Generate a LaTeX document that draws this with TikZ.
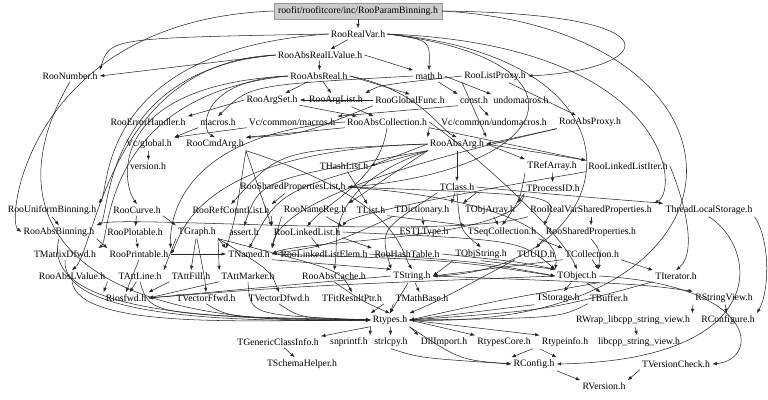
\documentclass[tikz,border=0pt]{standalone}
\usepackage{fontspec}
\setmainfont{Liberation Serif}
\usepackage{tikz}
\usetikzlibrary{arrows.meta}

\begin{document}
\begin{tikzpicture}[
  x=0.75pt, y=-0.75pt,
  hdr/.style={inner sep=1.5pt, font=\fontsize{7.3}{8}\selectfont},
  rootf/.style={hdr, fill=black!20, draw=black!40, inner xsep=3pt, minimum height=12pt},
  dep/.style={-{Latex[length=3.4pt,width=2.6pt]}, line width=0.4pt, black!85}
]
\useasboundingbox (0,0) rectangle (768,400);

% header nodes, row by row
\node[rootf] (rootfile) at (358,11) {roofit/roofitcore/inc/RooParamBinning.h};
\node[hdr] (realvar) at (358,34) {RooRealVar.h};
\node[hdr] (absreallv) at (320,55) {RooAbsRealLValue.h};
\node[hdr] (number) at (70,76) {RooNumber.h};
\node[hdr] (absreal) at (319,76) {RooAbsReal.h};
\node[hdr] (mathh) at (429,76) {math.h};
\node[hdr] (listproxy) at (495,76) {RooListProxy.h};
\node[hdr] (argset) at (272,100) {RooArgSet.h};
\node[hdr] (arglist) at (336,100) {RooArgList.h};
\node[hdr] (globalfunc) at (410,100) {RooGlobalFunc.h};
\node[hdr] (consth) at (474,100) {const.h};
\node[hdr] (undomac) at (521,100) {undomacros.h};
\node[hdr] (errhandler) at (148,122) {RooErrorHandler.h};
\node[hdr] (macros) at (218,122) {macros.h};
\node[hdr] (vcmacros) at (292,122) {Vc/common/macros.h};
\node[hdr] (abscoll) at (387,122) {RooAbsCollection.h};
\node[hdr] (vcundomac) at (494,122) {Vc/common/undomacros.h};
\node[hdr] (absproxy) at (590,122) {RooAbsProxy.h};
\node[hdr] (vcglobal) at (149,144) {Vc/global.h};
\node[hdr] (cmdarg) at (215,144) {RooCmdArg.h};
\node[hdr] (absarg) at (457,144) {RooAbsArg.h};
\node[hdr] (version) at (148,166) {version.h};
\node[hdr] (hashlist) at (344,166) {THashList.h};
\node[hdr] (refarray) at (552,166) {TRefArray.h};
\node[hdr] (llistiter) at (628,166) {RooLinkedListIter.h};
\node[hdr] (sharedpl) at (293,187) {RooSharedPropertiesList.h};
\node[hdr] (tclass) at (457,187) {TClass.h};
\node[hdr] (processid) at (553,188) {TProcessID.h};
\node[hdr] (unifbin) at (52,210) {RooUniformBinning.h};
\node[hdr] (curve) at (137,210) {RooCurve.h};
\node[hdr] (refcount) at (231,210) {RooRefCountList.h};
\node[hdr] (namereg) at (315,210) {RooNameReg.h};
\node[hdr] (tlist) at (371,210) {TList.h};
\node[hdr] (tdict) at (422,210) {TDictionary.h};
\node[hdr] (objarray) at (490,210) {TObjArray.h};
\node[hdr] (rvsp) at (591,210) {RooRealVarSharedProperties.h};
\node[hdr] (tls) at (709,210) {ThreadLocalStorage.h};
\node[hdr] (absbin) at (59,232) {RooAbsBinning.h};
\node[hdr] (plotable) at (135,232) {RooPlotable.h};
\node[hdr] (tgraph) at (197,232) {TGraph.h};
\node[hdr] (asserth) at (244,232) {assert.h};
\node[hdr] (llist) at (307,232) {RooLinkedList.h};
\node[hdr] (estl) at (424,232) {ESTLType.h};
\node[hdr] (seqcoll) at (502,232) {TSeqCollection.h};
\node[hdr] (sharedprop) at (591,232) {RooSharedProperties.h};
\node[hdr] (matdfwd) at (65,254) {TMatrixDfwd.h};
\node[hdr] (printable) at (139,254) {RooPrintable.h};
\node[hdr] (tnamed) at (249,254) {TNamed.h};
\node[hdr] (llelem) at (324,254) {RooLinkedListElem.h};
\node[hdr] (hashtable) at (407,254) {RooHashTable.h};
\node[hdr] (objstring) at (481,254) {TObjString.h};
\node[hdr] (tuuid) at (536,254) {TUUID.h};
\node[hdr] (tcoll) at (592,254) {TCollection.h};
\node[hdr] (abslv) at (72,276) {RooAbsLValue.h};
\node[hdr] (attline) at (140,276) {TAttLine.h};
\node[hdr] (attfill) at (191,276) {TAttFill.h};
\node[hdr] (attmarker) at (248,276) {TAttMarker.h};
\node[hdr] (abscache) at (334,276) {RooAbsCache.h};
\node[hdr] (tstring) at (412,276) {TString.h};
\node[hdr] (tobject) at (577,276) {TObject.h};
\node[hdr] (titer) at (676,276) {TIterator.h};
\node[hdr] (riosfwd) at (126,298) {Riosfwd.h};
\node[hdr] (vecffwd) at (206,298) {TVectorFfwd.h};
\node[hdr] (vecdfwd) at (279,298) {TVectorDfwd.h};
\node[hdr] (fitres) at (352,298) {TFitResultPtr.h};
\node[hdr] (mathbase) at (422,298) {TMathBase.h};
\node[hdr] (tstorage) at (558,298) {TStorage.h};
\node[hdr] (tbuffer) at (609,298) {TBuffer.h};
\node[hdr] (strview) at (724,298) {RStringView.h};
\node[hdr] (rtypes) at (390,320) {Rtypes.h};
\node[hdr] (rwrap) at (633,320) {RWrap\_libcpp\_string\_view.h};
\node[hdr] (rconfigure) at (728,320) {RConfigure.h};
\node[hdr] (genclass) at (278,342) {TGenericClassInfo.h};
\node[hdr] (snprintf) at (349,342) {snprintf.h};
\node[hdr] (strlcpy) at (391,342) {strlcpy.h};
\node[hdr] (dllimport) at (444,342) {DllImport.h};
\node[hdr] (rtypescore) at (504,342) {RtypesCore.h};
\node[hdr] (rtypeinfo) at (565,342) {Rtypeinfo.h};
\node[hdr] (libcpp) at (639,342) {libcpp\_string\_view.h};
\node[hdr] (schema) at (302,364) {TSchemaHelper.h};
\node[hdr] (rconfig) at (534,364) {RConfig.h};
\node[hdr] (verscheck) at (676,364) {TVersionCheck.h};
\node[hdr] (rversion) at (604,386) {RVersion.h};

% includes of the top file
\draw[dep] (rootfile) -- (realvar);
\draw[dep] (rootfile.east) .. controls (690,14) and (650,70) .. (listproxy.east);
\draw[dep] (rootfile.west) .. controls (30,20) and (5,220) .. (absbin.west);
\draw[dep] (rootfile.east) .. controls (775,30) and (770,330) .. (rtypes.east);

% roofit headers
\draw[dep] (realvar) -- (absreallv);
\draw[dep] (realvar.east) .. controls (430,40) .. (mathh.north);
\draw[dep] (realvar.west) .. controls (110,38) .. (number.north east);
\draw[dep] (realvar.west) .. controls (95,50) and (110,190) .. (unifbin.north east);
\draw[dep] (realvar.east) .. controls (670,45) and (680,190) .. (rvsp.north east);
\draw[dep] (realvar.east) .. controls (600,60) and (560,170) .. (sharedpl.east);
\draw[dep] (realvar.east) .. controls (670,60) and (620,270) .. (tstring.east);
\draw[dep] (absreallv) -- (absreal);
\draw[dep] (absreallv.west) -- (number.east);
\draw[dep] (absreallv.east) -- (mathh.north west);
\draw[dep] (absreallv.west) .. controls (110,62) and (95,250) .. (abslv.north);
\draw[dep] (absreallv.west) .. controls (100,70) and (110,220) .. (absbin.north east);
\draw[dep] (absreal) -- (argset);
\draw[dep] (absreal) -- (arglist);
\draw[dep] (absreal.east) -- (globalfunc.north);
\draw[dep] (absreal.west) .. controls (200,80) and (200,130) .. (cmdarg.north);
\draw[dep] (absreal.west) .. controls (110,85) and (120,180) .. (curve.north);
\draw[dep] (absreal.east) .. controls (420,90) and (440,130) .. (absarg.north);
\draw[dep] (absreal.west) .. controls (100,95) and (110,240) .. (matdfwd.north east);
\draw[dep] (number.south) .. controls (0,200) and (40,330) .. (rtypes.west);
\draw[dep] (listproxy) -- (absproxy);
\draw[dep] (listproxy.south west) -- (absarg.north east);
\draw[dep] (listproxy.west) .. controls (380,85) .. (arglist.north east);
\draw[dep] (argset) -- (abscoll);
\draw[dep] (argset.west) -- (errhandler.north east);
\draw[dep] (arglist) -- (abscoll);
\draw[dep] (globalfunc.south west) .. controls (300,135) .. (cmdarg.north east);
\draw[dep] (globalfunc.west) -- (argset.east);
\draw[dep] (mathh) -- (consth.north west);
\draw[dep] (mathh.east) -- (undomac.north west);
\draw[dep] (mathh.west) .. controls (250,85) .. (macros.north);
\draw[dep] (consth) -- (vcundomac);
\draw[dep] (consth.south west) -- (vcmacros.north east);
\draw[dep] (macros.south west) -- (vcglobal.north east);
\draw[dep] (vcmacros.south west) -- (vcglobal.north east);
\draw[dep] (vcglobal) -- (version);
\draw[dep] (abscoll.east) .. controls (470,150) and (560,230) .. (tobject.north);
\draw[dep] (abscoll.south east) -- (absarg.north west);
\draw[dep] (abscoll.west) .. controls (170,135) and (170,230) .. (printable.north east);
\draw[dep] (abscoll.south) .. controls (380,180) and (330,200) .. (llist.north);
\draw[dep] (abscoll.south west) -- (cmdarg.north east);
\draw[dep] (abscoll.south east) -- (llistiter.north west);
\draw[dep] (absproxy.south west) -- (absarg.east);
\draw[dep] (absproxy.south west) .. controls (420,160) and (280,200) .. (tnamed.north east);
\draw[dep] (absarg.south west) .. controls (260,180) .. (asserth.north);
\draw[dep] (absarg.south west) .. controls (280,190) .. (tnamed.north);
\draw[dep] (absarg.west) -- (hashlist.east);
\draw[dep] (absarg.east) -- (refarray.north west);
\draw[dep] (absarg.west) .. controls (190,150) and (180,240) .. (printable.east);
\draw[dep] (absarg.west) .. controls (280,150) .. (refcount.north);
\draw[dep] (absarg.south west) .. controls (320,190) and (340,240) .. (abscache.north);
\draw[dep] (absarg.east) -- (llistiter.north west);
\draw[dep] (absarg.south west) -- (namereg.north east);
\draw[dep] (absarg) -- (tclass);
\draw[dep] (cmdarg.south east) .. controls (235,220) .. (tnamed.north west);
\draw[dep] (cmdarg.south east) .. controls (400,200) and (400,250) .. (tstring.north);
\draw[dep] (cmdarg.south east) -- (llist.north west);
\draw[dep] (hashlist) -- (tlist);
\draw[dep] (refarray.south west) .. controls (520,200) .. (seqcoll.north);
\draw[dep] (refarray) -- (processid);
\draw[dep] (llistiter.east) .. controls (680,190) and (700,250) .. (titer.north);
\draw[dep] (llistiter.south west) .. controls (450,195) and (350,215) .. (llist.north east);
\draw[dep] (sharedpl.east) .. controls (520,200) and (560,240) .. (tobject.north west);
\draw[dep] (sharedpl) -- (refcount.north east);
\draw[dep] (sharedpl.east) .. controls (560,195) .. (sharedprop.north west);
\draw[dep] (tclass) -- (tdict.north east);
\draw[dep] (tclass.south east) -- (objarray.north west);
\draw[dep] (tclass.east) .. controls (560,195) .. (tls.north west);
\draw[dep] (tclass.south) .. controls (460,230) .. (objstring.north);
\draw[dep] (tclass.south west) .. controls (380,230) .. (tstring.north west);
\draw[dep] (processid.south west) -- (objarray.north east);
\draw[dep] (processid.south west) .. controls (520,240) and (300,240) .. (tnamed.east);

% middle rows
\draw[dep] (unifbin.south) -- (absbin.north);
\draw[dep] (curve.south east) -- (tgraph.north west);
\draw[dep] (curve) -- (plotable);
\draw[dep] (refcount.south east) -- (llist.north west);
\draw[dep] (namereg) -- (llist.north east);
\draw[dep] (namereg.south west) -- (tnamed.north east);
\draw[dep] (tlist.south east) -- (seqcoll.north west);
\draw[dep] (tdict.south west) .. controls (330,245) .. (tnamed.east);
\draw[dep] (tdict) -- (estl);
\draw[dep] (objarray) -- (seqcoll);
\draw[dep] (rvsp) -- (sharedprop);
\draw[dep] (rvsp.south west) .. controls (450,240) and (120,215) .. (absbin.north east);
\draw[dep] (tls.south east) .. controls (770,240) and (770,290) .. (rconfigure.north east);
\draw[dep] (tls.south) .. controls (760,250) and (770,360) .. (rconfig.east);
\draw[dep] (absbin.south east) -- (printable.north west);
\draw[dep] (absbin.south) .. controls (40,310) and (200,320) .. (rtypes.west);
\draw[dep] (plotable) -- (printable);
\draw[dep] (tgraph.south east) -- (tnamed.north west);
\draw[dep] (tgraph.south west) -- (attline.north east);
\draw[dep] (tgraph) -- (attfill.north);
\draw[dep] (tgraph.south east) -- (attmarker.north west);
\draw[dep] (tgraph.south) .. controls (205,280) .. (vecffwd.north);
\draw[dep] (tgraph.south east) .. controls (270,270) .. (vecdfwd.north);
\draw[dep] (tgraph.south east) .. controls (340,270) .. (fitres.north);
\draw[dep] (llist.east) .. controls (520,240) .. (tobject.north west);
\draw[dep] (llist) -- (llelem);
\draw[dep] (llist.south east) -- (hashtable.north west);
\draw[dep] (seqcoll.south east) -- (tcoll.north west);
\draw[dep] (sharedprop.south) .. controls (600,250) .. (tobject.north east);
\draw[dep] (sharedprop.south west) -- (tuuid.north);
\draw[dep] (matdfwd.south) .. controls (60,320) and (250,322) .. (rtypes.west);
\draw[dep] (printable.south) -- (riosfwd.north);
\draw[dep] (printable.east) -- (tnamed.west);
\draw[dep] (tnamed.east) .. controls (450,260) .. (tobject.west);
\draw[dep] (tnamed.south east) -- (tstring.north west);
\draw[dep] (llelem.east) .. controls (480,262) .. (tobject.west);
\draw[dep] (hashtable.east) .. controls (520,262) .. (tobject.north west);
\draw[dep] (objstring.south) -- (tobject.north west);
\draw[dep] (objstring.south west) -- (tstring.east);
\draw[dep] (tuuid.south west) .. controls (440,300) .. (rtypes.north east);
\draw[dep] (tcoll.south) -- (tobject.north east);
\draw[dep] (tcoll.south east) -- (titer.north west);
\draw[dep] (tcoll.south west) .. controls (500,268) .. (tstring.east);

% lower rows
\draw[dep] (abslv.south east) -- (riosfwd.north west);
\draw[dep] (abslv.south) .. controls (80,330) and (250,320) .. (rtypes.west);
\draw[dep] (attline) -- (riosfwd);
\draw[dep] (attfill.south west) -- (riosfwd.north east);
\draw[dep] (attmarker.south west) -- (riosfwd.east);
\draw[dep] (attline.south) .. controls (150,315) .. (rtypes.west);
\draw[dep] (attmarker.south) .. controls (250,315) .. (rtypes.west);
\draw[dep] (abscache.south) .. controls (360,300) .. (rtypes.north);
\draw[dep] (tstring) -- (rtypes.north);
\draw[dep] (tstring) -- (mathbase);
\draw[dep] (tstring.east) .. controls (640,284) .. (strview.north west);
\draw[dep] (tstring.west) .. controls (300,284) .. (riosfwd.east);
\draw[dep] (tobject.south east) .. controls (500,300) .. (rtypes.east);
\draw[dep] (tobject) -- (tstorage);
\draw[dep] (tobject) -- (tbuffer);
\draw[dep] (tobject.east) .. controls (760,285) and (760,360) .. (verscheck.east);
\draw[dep] (tobject.west) .. controls (300,286) .. (riosfwd.east);
\draw[dep] (titer.south west) .. controls (550,310) .. (rtypes.east);
\draw[dep] (vecffwd.south) .. controls (230,318) .. (rtypes.west);
\draw[dep] (vecdfwd.south) .. controls (300,318) .. (rtypes.west);
\draw[dep] (fitres.south east) -- (rtypes.north west);
\draw[dep] (mathbase.south west) -- (rtypes.north);
\draw[dep] (tstorage.south west) -- (rtypes.east);
\draw[dep] (tbuffer.south west) .. controls (560,318) .. (rtypes.east);
\draw[dep] (strview.south west) -- (rwrap.north east);
\draw[dep] (strview) -- (rconfigure);

% bottom of the graph
\draw[dep] (rtypes.south west) -- (genclass.north east);
\draw[dep] (rtypes.south west) -- (snprintf.north east);
\draw[dep] (rtypes) -- (strlcpy);
\draw[dep] (rtypes.south east) -- (dllimport.north west);
\draw[dep] (rtypes.east) -- (rtypescore.north west);
\draw[dep] (rtypes.east) -- (rtypeinfo.north west);
\draw[dep] (rtypes.south east) .. controls (460,360) .. (rconfig.west);
\draw[dep] (rwrap) -- (libcpp);
\draw[dep] (genclass) -- (schema);
\draw[dep] (strlcpy.south) .. controls (420,358) .. (rconfig.west);
\draw[dep] (rtypescore.south east) -- (rconfig.north west);
\draw[dep] (rtypeinfo.south west) -- (rconfig.north east);
\draw[dep] (rconfig.south east) -- (rversion.north west);
\draw[dep] (verscheck.south west) -- (rversion.north east);
\end{tikzpicture}
\end{document}
